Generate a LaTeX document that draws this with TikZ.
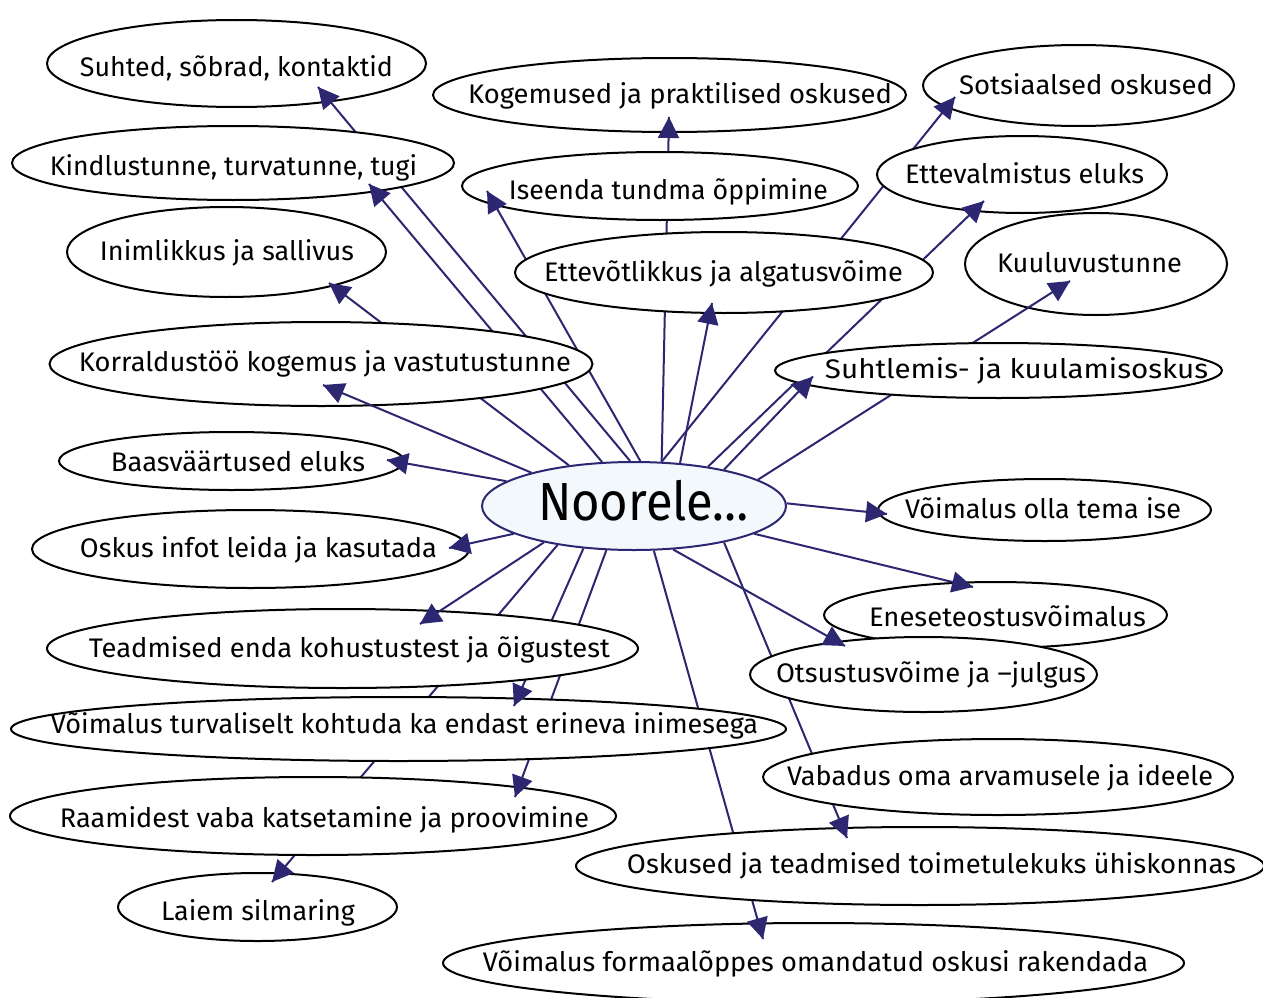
\documentclass[tikz,border=0pt]{standalone}
\usepackage{fontspec}
\setmainfont{Fira Sans}
\usepackage{graphicx}
\usetikzlibrary{arrows.meta,shapes.geometric,calc}
\definecolor{navy}{RGB}{45,38,112}
\definecolor{cfill}{RGB}{243,248,253}
\pgfdeclarelayer{background}
\pgfdeclarelayer{foreground}
\pgfsetlayers{background,main,foreground}
\newcommand\fitw[2]{\resizebox{#1pt}{\height}{#2}}
\begin{document}
\begin{tikzpicture}[x=1pt,y=-1pt,
  el/.style={ellipse, draw=black, line width=2pt, fill=white, inner sep=0pt},
  lbl/.style={anchor=base, inner sep=0pt, font=\fontsize{26.85pt}{30pt}\selectfont},
  edge/.style={draw=navy, line width=2pt},
  tipstyle/.style={edge, -{Triangle[length=21pt,width=21pt]}}]
\useasboundingbox (0,0) rectangle (1263,998);
\begin{pgfonlayer}{background}
\fill[white] (0,0) rectangle (1263,998);
\end{pgfonlayer}
% centre node
\node[ellipse, draw=navy, fill=cfill, line width=2pt, inner sep=0pt,
      minimum width=304pt, minimum height=88pt] (c) at (634,506) {};
\node[anchor=base, inner sep=0pt, font=\fontsize{53.7pt}{60pt}\selectfont] (ct) at (643.5,520) {\fitw{211}{Noorele…}};
% ellipses
\node[el, minimum width=379pt, minimum height=87pt] (n1) at (236.5,63.5) {};
\node[el, minimum width=473pt, minimum height=74pt] (n2) at (669.5,95) {};
\node[el, minimum width=311pt, minimum height=81pt] (n3) at (1078.5,85.5) {};
\node[el, minimum width=442pt, minimum height=74pt] (n4) at (233,163) {};
\node[el, minimum width=396pt, minimum height=68pt] (n5) at (660,186) {};
\node[el, minimum width=290pt, minimum height=77pt] (n6) at (1022,174.5) {};
\node[el, minimum width=319pt, minimum height=90pt] (n7) at (226.5,252) {};
\node[el, minimum width=418pt, minimum height=81pt] (n8) at (724,272.5) {};
\node[el, minimum width=262pt, minimum height=102pt] (n9) at (1096,264) {};
\node[el, minimum width=543pt, minimum height=84pt] (n10) at (321,364) {};
\node[el, minimum width=447pt, minimum height=55pt] (n11) at (998.5,370.5) {};
\node[el, minimum width=345pt, minimum height=58pt] (n12) at (231.5,461) {};
\node[el, minimum width=333pt, minimum height=62pt] (n13) at (1044.5,510) {};
\node[el, minimum width=437pt, minimum height=78pt] (n14) at (250.5,549) {};
\node[el, minimum width=343pt, minimum height=66pt] (n15) at (995.5,615) {};
\node[el, minimum width=591pt, minimum height=79pt] (n16) at (342.5,648.5) {};
\node[el, minimum width=347pt, minimum height=75pt] (n17) at (923.5,674.5) {};
\node[el, minimum width=775pt, minimum height=64pt] (n18) at (398.5,729) {};
\node[el, minimum width=470pt, minimum height=76pt] (n19) at (998,777) {};
\node[el, minimum width=606pt, minimum height=78pt] (n20) at (313,816) {};
\node[el, minimum width=688pt, minimum height=78pt] (n21) at (920,866) {};
\node[el, minimum width=279pt, minimum height=68pt] (n22) at (257.5,907) {};
\node[el, minimum width=741pt, minimum height=80pt] (n23) at (813.5,963) {};
% labels
\node[lbl] (t1) at (236.5,76) {\fitw{313}{Suhted, sõbrad, kontaktid}};
\node[lbl] (t2) at (680,103) {\fitw{424}{Kogemused ja praktilised oskused}};
\node[lbl] (t3) at (1086,94.5) {\fitw{254}{Sotsiaalsed oskused}};
\node[lbl] (t4) at (233.5,175) {\fitw{367}{Kindlustunne, turvatunne, tugi}};
\node[lbl] (t5) at (668.5,199) {\fitw{319}{Iseenda tundma õppimine}};
\node[lbl] (t6) at (1024.5,183) {\fitw{239}{Ettevalmistus eluks}};
\node[lbl] (t7) at (227,260) {\fitw{254}{Inimlikkus ja sallivus}};
\node[lbl] (t8) at (723.5,281) {\fitw{359}{Ettevõtlikkus ja algatusvõime}};
\node[lbl] (t9) at (1089.5,272) {\fitw{185}{Kuuluvustunne}};
\node[lbl] (t10) at (325,371) {\fitw{492}{Korraldustöö kogemus ja vastutustunne}};
\node[lbl] (t11) at (1016.5,378) {\fitw{383}{Suhtlemis- ja kuulamisoskus}};
\node[lbl] (t12) at (238,471) {\fitw{254}{Baasväärtused eluks}};
\node[lbl] (t13) at (1043,518) {\fitw{276}{Võimalus olla tema ise}};
\node[lbl] (t14) at (258.5,557) {\fitw{357}{Oskus infot leida ja kasutada}};
\node[lbl] (t15) at (1007.5,626.5) {\fitw{277}{Eneseteostusvõimalus}};
\node[lbl] (t16) at (349.5,657) {\fitw{521}{Teadmised enda kohustustest ja õigustest}};
\node[lbl] (t17) at (931,682) {\fitw{310}{Otsustusvõime ja –julgus}};
\node[lbl] (t18) at (404.5,733) {\fitw{707}{Võimalus turvaliselt kohtuda ka endast erineva inimesega}};
\node[lbl] (t19) at (1000,785) {\fitw{426}{Vabadus oma arvamusele ja ideele}};
\node[lbl] (t20) at (324.5,827) {\fitw{529}{Raamidest vaba katsetamine ja proovimine}};
\node[lbl] (t21) at (931.5,873) {\fitw{609}{Oskused ja teadmised toimetulekuks ühiskonnas}};
\node[lbl] (t22) at (258,920) {\fitw{194}{Laiem silmaring}};
\node[lbl] (t23) at (815.5,971) {\fitw{665}{Võimalus formaalõppes omandatud oskusi rakendada}};
% connectors
\foreach \s/\t/\dx/\dy in {
  95.3/n1/81.5/23.5, 126.7/n4/136/21, 82/n5/-173/5, 58.8/n2/-0.5/22,
  58.8/n3/-123.5/11.5, 43.7/n8/-12/30.5, 28.8/n6/-38/26.5, 22.9/n11/-185.5/6,
  12.4/n9/-26/17, 1.9/n13/-157.5/4, -13.2/n15/-22.5/-28, -48.3/n17/-78.5/-28.5,
  -22.9/n21/-73/-28, -66.5/n23/-50.5/-24, -122/n20/202/-19, -140.9/n18/115.5/-23,
  -153.8/n22/14.5/-25, -158.9/n16/77.5/-24.5, -167/n14/198.5/-1, 169.2/n12/155.5/-1,
  162/n10/2/21, 148/n7/102.5/31}{
  \coordinate (tip-\t) at ($(\t)+(\dx,\dy)$);
  \begin{pgfonlayer}{background}
    \draw[edge] (c.\s) -- (tip-\t);
  \end{pgfonlayer}
  \begin{pgfonlayer}{foreground}
    \begin{scope}
      \path[clip] let \p1=($(\t.east)-(\t.center)$), \p2=($(\t.north)-(\t.center)$) in
        (\t.center) ellipse [x radius=\x1, y radius=\y2];
      \draw[edge] (c.\s) -- (tip-\t);
    \end{scope}
    \draw[tipstyle] ($(tip-\t)!21pt!(c.\s)$) -- (tip-\t);
  \end{pgfonlayer}
}
\end{tikzpicture}
\end{document}
